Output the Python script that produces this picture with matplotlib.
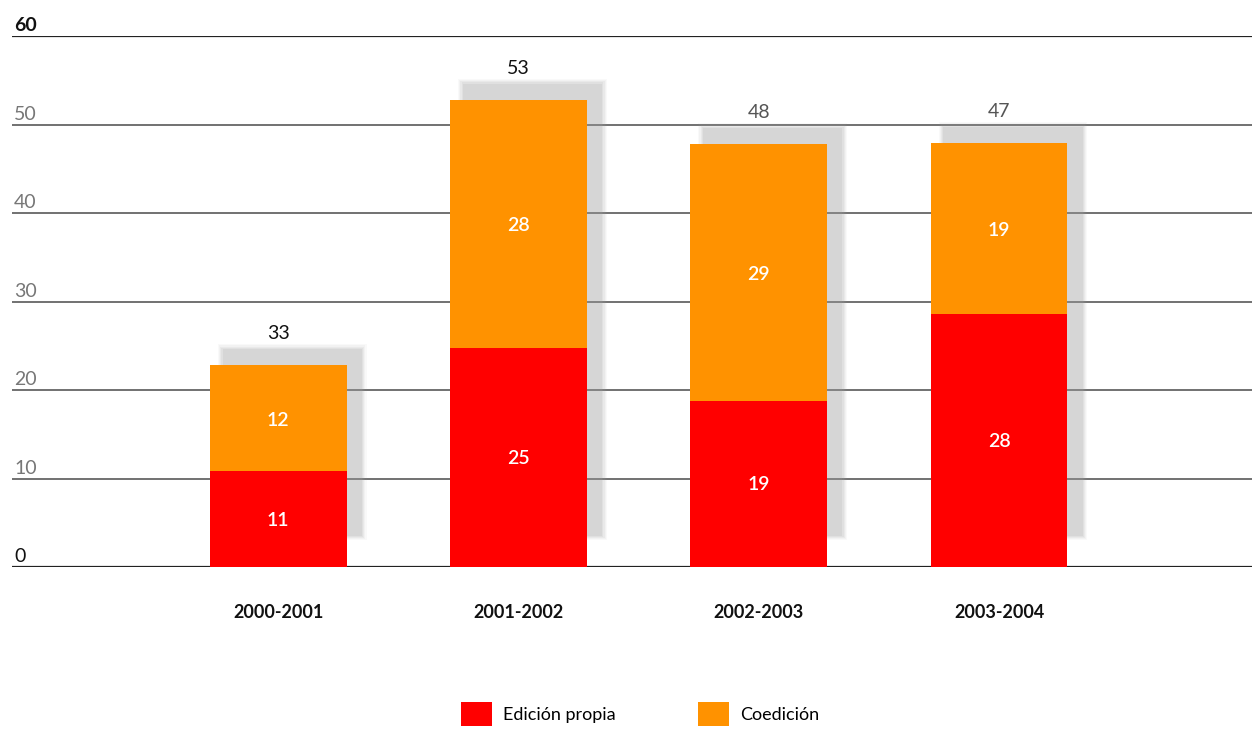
import matplotlib
matplotlib.use("Agg")
import matplotlib.pyplot as plt
import numpy as np

# ---- data ----
periods = ["2000-2001", "2001-2002", "2002-2003", "2003-2004"]
edicion_propia = [10.8, 24.8, 18.8, 28.6]      # drawn heights
coedicion = [12.0, 28.0, 29.0, 19.3]           # drawn heights
edicion_labels = ["11", "25", "19", "28"]
coedicion_labels = ["12", "28", "29", "19"]
total_labels = ["33", "53", "48", "47"]
yticks = [0, 10, 20, 30, 40, 50, 60]
series_names = ["Edición propia", "Coedición"]

RED = "#FF0000"
ORANGE = "#FF9200"

plt.rcParams["font.family"] = ["Lato", "DejaVu Sans"]

W, H = 1252, 729
fig = plt.figure(figsize=(W / 100, H / 100), dpi=100)
ax = fig.add_axes([12 / W, 1 - 567 / H, (W - 12) / W, 531 / H])
ax.set_xlim(-1.108, 4.053)
ax.set_ylim(0, 60)
ax.axis("off")

x = np.arange(len(periods))
width = 0.57
px_x = 240.3  # pixels per x unit
px_y = 8.85   # pixels per y unit

# gridlines and tick labels
for t in yticks:
    if t in (0, 60):
        ax.axhline(t, color="#222222", lw=1.6, zorder=1)
    else:
        ax.axhline(t, color="#666666", lw=1.3, zorder=1)
    ax.text(-1.108 + 2 / px_x, t + 0.2, str(t), ha="left", va="bottom",
            fontsize=14, color="#111111" if t in (0, 60) else "#777777",
            fontweight="bold" if t == 60 else "normal", zorder=5)

totals = np.array(edicion_propia) + np.array(coedicion)

# blurred shadow
dx = 14 / px_x
dy = 15 / px_y
for i in range(len(x)):
    for k, a in enumerate([0.06, 0.08, 0.10, 0.12, 0.14]):
        grow = (5 - k) * 1.2
        ax.bar(x[i] + dx, totals[i] - 2.0 + 2 * grow / px_y, width=width + 2 * grow / px_x,
               bottom=2.0 + dy - grow / px_y, color="#a0a0a0", alpha=a, linewidth=0, zorder=2)

b1 = ax.bar(x, edicion_propia, width=width, color=RED, linewidth=0, zorder=3,
            label=series_names[0])
b2 = ax.bar(x, coedicion, width=width, bottom=edicion_propia, color=ORANGE,
            linewidth=0, zorder=3, label=series_names[1])

for i in range(len(x)):
    ax.text(x[i], edicion_propia[i] / 2 - 0.1, edicion_labels[i], ha="center", va="center",
            color="white", fontsize=14, fontweight="semibold", zorder=4)
    ax.text(x[i], edicion_propia[i] + coedicion[i] / 2 - 0.2, coedicion_labels[i],
            ha="center", va="center", color="white", fontsize=14, fontweight="semibold",
            zorder=4)
    ax.text(x[i], totals[i] + 2.6, total_labels[i], ha="center", va="bottom",
            color="#111111" if i < 2 else "#555555", fontsize=14, zorder=4)
    ax.text(x[i], -5.1, periods[i], ha="center", va="center", fontsize=13,
            fontweight="bold", color="#111111")

leg = fig.legend(handles=[b1, b2], labels=series_names, loc="center",
                 bbox_to_anchor=(640 / W, 1 - 714 / H), ncol=2, frameon=False,
                 fontsize=13, handlelength=1.7, handleheight=1.7,
                 handletextpad=0.6, columnspacing=4.6)

fig.savefig("out.png", dpi=100)
